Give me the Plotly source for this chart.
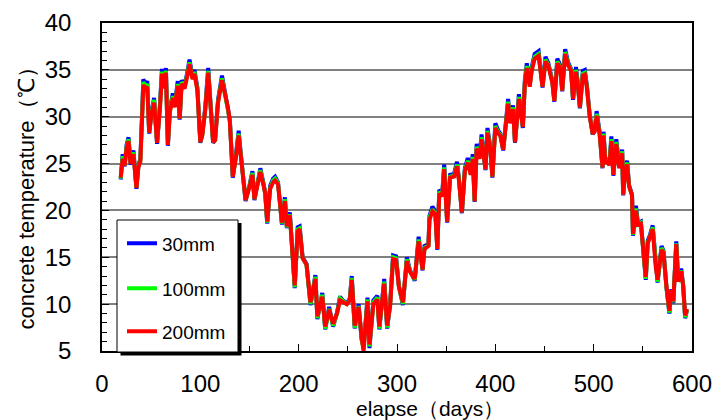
import plotly.graph_objects as go

days = [19, 21, 23, 25, 27, 29, 32, 34, 35, 37,
        39, 41, 42, 44, 46, 48, 50, 53, 56, 59,
        61, 63, 65, 67, 69, 72, 74, 77, 79, 81,
        84, 87, 89, 92, 94, 97, 100, 102, 105, 108,
        111, 113, 115, 118, 122, 125, 128, 130, 132, 133,
        136, 139, 141, 143, 146, 150, 153, 155, 158, 161,
        164, 166, 168, 171, 174, 176, 179, 183, 186, 188,
        191, 193, 196, 199, 201, 204, 208, 212, 215, 217,
        219, 222, 224, 227, 231, 235, 239, 242, 245, 249,
        252, 254, 257, 261, 264, 266, 270, 272, 276, 280,
        282, 287, 290, 293, 296, 299, 302, 306, 310, 313,
        316, 318, 322, 326, 328, 332, 333, 336, 339, 341,
        343, 346, 348, 351, 354, 358, 361, 363, 366, 369,
        372, 375, 377, 379, 381, 384, 386, 390, 392, 395,
        397, 400, 403, 405, 408, 413, 415, 418, 420, 424,
        428, 430, 432, 435, 437, 440, 444, 446, 448, 451,
        454, 458, 460, 463, 466, 468, 471, 474, 477, 479,
        482, 484, 486, 489, 491, 493, 496, 499, 501, 503,
        506, 509, 510, 512, 514, 516, 518, 520, 523, 526,
        529, 530, 532, 534, 536, 539, 540, 543, 545, 548,
        550, 553, 555, 557, 560, 563, 565, 569, 571, 574,
        577, 579, 581, 584, 586, 589, 591, 593, 595]

t200 = [23.5, 25.5, 24.8, 26.6, 27.4, 25.0, 26.0, 24.0, 22.4, 24.6,
        25.2, 30.5, 33.4, 33.0, 33.2, 28.3, 30.0, 31.5, 27.2, 31.0,
        34.6, 33.0, 34.7, 27.0, 30.5, 32.0, 31.0, 33.3, 29.8, 33.5,
        33.0, 34.5, 35.6, 34.0, 34.6, 32.8, 27.3, 28.0, 30.7, 34.7,
        31.0, 27.3, 27.5, 31.5, 33.9, 32.5, 31.0, 29.5, 25.7, 23.6,
        25.5, 28.0, 26.0, 24.2, 21.1, 22.5, 23.8, 21.2, 22.5, 24.1,
        22.8, 21.8, 18.8, 22.3, 23.0, 23.2, 22.8, 18.7, 21.0, 18.3,
        19.5, 16.5, 12.0, 17.8, 18.0, 14.9, 14.2, 10.2, 11.5, 12.7,
        8.7, 9.8, 10.8, 7.6, 9.4, 7.9, 9.0, 10.4, 10.2, 10.0,
        10.4, 12.6, 7.7, 9.7, 6.5, 5.0, 10.3, 5.7, 10.0, 10.5,
        7.6, 12.2, 7.7, 9.8, 14.8, 14.7, 11.8, 10.2, 14.6, 13.5,
        13.0, 12.7, 16.7, 13.7, 15.9, 16.2, 19.0, 19.9, 19.6, 15.9,
        21.8, 21.5, 24.4, 18.8, 23.5, 23.6, 24.7, 23.2, 19.8, 24.2,
        25.1, 23.8, 25.5, 21.0, 26.6, 25.5, 27.6, 24.4, 28.3, 26.5,
        23.6, 28.8, 28.2, 28.0, 26.5, 31.4, 29.3, 30.8, 27.3, 31.9,
        28.9, 33.5, 35.2, 33.2, 34.9, 36.2, 36.5, 35.0, 33.2, 35.9,
        35.4, 33.6, 31.7, 35.7, 35.2, 32.8, 36.7, 35.5, 34.9, 31.9,
        34.8, 33.3, 31.0, 34.4, 34.5, 33.2, 30.0, 28.2, 28.4, 30.1,
        28.2, 24.6, 28.0, 25.0, 25.3, 24.8, 27.4, 23.8, 27.1, 24.5,
        26.1, 21.7, 24.2, 24.9, 22.6, 21.6, 17.5, 20.0, 18.5, 18.6,
        15.8, 12.9, 16.5, 17.0, 18.0, 14.1, 12.6, 15.8, 15.5, 11.9,
        9.3, 11.5, 10.3, 16.4, 12.4, 13.5, 12.0, 8.8, 9.5]

t30 = [23.3, 26.0, 24.7, 27.0, 27.8, 24.9, 26.4, 24.1, 22.3, 24.8,
       25.5, 30.9, 34.0, 33.5, 33.8, 28.2, 30.3, 32.0, 27.1, 31.4,
       35.1, 33.3, 35.2, 26.9, 30.8, 32.5, 31.2, 33.8, 29.7, 33.9,
       33.3, 34.9, 36.1, 34.3, 35.0, 33.1, 27.2, 28.2, 31.0, 35.2,
       31.2, 27.2, 27.5, 31.8, 34.4, 32.8, 31.3, 29.7, 25.8, 23.5,
       25.8, 28.5, 26.2, 24.3, 21.0, 22.7, 24.2, 21.1, 22.7, 24.5,
       23.0, 21.9, 18.6, 22.6, 23.4, 23.6, 23.0, 18.5, 21.4, 18.1,
       19.8, 16.5, 11.7, 18.2, 18.3, 15.0, 14.3, 9.9, 11.7, 13.1,
       8.4, 9.9, 11.2, 7.3, 9.7, 7.6, 9.1, 10.8, 10.4, 10.1,
       10.6, 13.0, 7.4, 10.0, 6.2, 5.4, 10.7, 5.3, 10.4, 10.9,
       7.3, 12.7, 7.4, 10.0, 15.2, 15.1, 11.9, 9.9, 15.0, 13.7,
       13.1, 12.5, 17.2, 13.6, 16.2, 16.4, 19.4, 20.4, 19.9, 15.8,
       22.2, 21.8, 24.9, 18.7, 23.8, 23.9, 25.2, 23.4, 19.7, 24.5,
       25.6, 24.0, 26.0, 20.9, 27.1, 25.8, 28.1, 24.3, 28.8, 26.7,
       23.5, 29.3, 28.5, 28.2, 26.4, 31.9, 29.5, 31.2, 27.2, 32.4,
       28.8, 33.9, 35.7, 33.4, 35.3, 36.7, 37.0, 35.3, 33.1, 36.4,
       35.7, 33.8, 31.6, 36.2, 35.5, 32.7, 37.2, 35.8, 35.1, 31.8,
       35.3, 33.5, 30.9, 34.9, 35.0, 33.4, 30.2, 28.1, 28.6, 30.6,
       28.4, 24.5, 28.4, 25.2, 25.5, 25.0, 27.9, 23.7, 27.6, 24.7,
       26.5, 21.6, 24.5, 25.3, 22.7, 21.7, 17.3, 20.5, 18.6, 18.8,
       15.8, 12.6, 16.8, 17.3, 18.4, 14.1, 12.3, 16.2, 15.7, 11.8,
       9.0, 11.6, 10.1, 16.7, 12.4, 13.8, 12.0, 8.5, 9.4]

t100 = [23.4, 25.8, 24.8, 26.8, 27.6, 25.0, 26.2, 24.0, 22.4, 24.7,
        25.3, 30.7, 33.7, 33.2, 33.5, 28.3, 30.1, 31.8, 27.2, 31.2,
        34.8, 33.1, 34.9, 27.0, 30.6, 32.2, 31.1, 33.5, 29.8, 33.7,
        33.1, 34.7, 35.8, 34.1, 34.8, 32.9, 27.3, 28.1, 30.8, 34.9,
        31.1, 27.3, 27.5, 31.6, 34.1, 32.6, 31.1, 29.6, 25.7, 23.6,
        25.6, 28.2, 26.1, 24.2, 21.1, 22.6, 24.0, 21.2, 22.6, 24.3,
        22.9, 21.8, 18.7, 22.4, 23.2, 23.4, 22.9, 18.6, 21.2, 18.2,
        19.6, 16.5, 11.8, 18.0, 18.1, 14.9, 14.2, 10.0, 11.6, 12.9,
        8.5, 9.8, 11.0, 7.4, 9.5, 7.7, 9.0, 10.6, 10.3, 10.0,
        10.5, 12.8, 7.5, 9.8, 6.3, 5.2, 10.5, 5.5, 10.2, 10.7,
        7.4, 12.4, 7.5, 9.9, 15.0, 14.9, 11.8, 10.0, 14.8, 13.6,
        13.0, 12.6, 16.9, 13.7, 16.0, 16.3, 19.2, 20.1, 19.7, 15.9,
        22.0, 21.6, 24.6, 18.8, 23.6, 23.7, 24.9, 23.3, 19.8, 24.3,
        25.3, 23.9, 25.7, 21.0, 26.8, 25.6, 27.8, 24.4, 28.5, 26.6,
        23.6, 29.0, 28.3, 28.1, 26.5, 31.6, 29.4, 31.0, 27.3, 32.1,
        28.9, 33.7, 35.4, 33.3, 35.1, 36.4, 36.7, 35.1, 33.2, 36.1,
        35.5, 33.7, 31.7, 35.9, 35.3, 32.8, 36.9, 35.6, 35.0, 31.9,
        35.0, 33.4, 31.0, 34.6, 34.7, 33.3, 30.1, 28.2, 28.5, 30.3,
        28.3, 24.6, 28.2, 25.1, 25.4, 24.9, 27.6, 23.8, 27.3, 24.6,
        26.3, 21.7, 24.3, 25.1, 22.6, 21.6, 17.4, 20.2, 18.5, 18.7,
        15.8, 12.7, 16.6, 17.1, 18.2, 14.1, 12.4, 16.0, 15.6, 11.8,
        9.1, 11.5, 10.2, 16.5, 12.4, 13.6, 12.0, 8.6, 9.4]

series_names = ["30mm", "100mm", "200mm"]
series_colors = ["#0000FF", "#00FF00", "#FF0000"]
series_values = [t30, t100, t200]
legend_ids = ["legend", "legend2", "legend3"]

x_ticks = [0, 100, 200, 300, 400, 500, 600]
y_ticks = [5, 10, 15, 20, 25, 30, 35, 40]

FONT = "Liberation Sans, Arial, sans-serif"

fig = go.Figure()
for name, color, vals, lg in zip(series_names, series_colors, series_values, legend_ids):
    fig.add_trace(go.Scatter(
        x=days, y=vals, mode="lines", name=name,
        line=dict(color=color, width=4),
        legend=lg,
    ))

# plot geometry (px) used for placing legend box / titles
L, R, T, B = 102, 24, 23, 69
W, H = 716, 420
pw, ph = W - L - R, H - T - B


def px_x(px):
    return (px - L) / pw


def px_y(py):
    return (H - B - py) / ph


shapes = [
    dict(type="rect", xref="paper", yref="paper",
         x0=px_x(120.5), x1=px_x(241.5), y0=px_y(355.5), y1=px_y(223),
         fillcolor="black", line=dict(width=0), layer="above"),
    dict(type="rect", xref="paper", yref="paper",
         x0=px_x(117), x1=px_x(238), y0=px_y(352), y1=px_y(220),
         fillcolor="white", line=dict(color="black", width=1), layer="above"),
]

legend_common = dict(bgcolor="rgba(0,0,0,0)", borderwidth=0,
                     font=dict(family=FONT, size=19, color="black"),
                     xanchor="left", yanchor="top", itemwidth=30,
                     x=px_x(122))

fig.update_layout(
    width=W, height=H,
    margin=dict(l=L, r=R, t=T, b=B),
    paper_bgcolor="white", plot_bgcolor="white",
    font=dict(family=FONT, color="black"),
    showlegend=True,
    legend=dict(**legend_common, y=px_y(224.5)),
    legend2=dict(**legend_common, y=px_y(269.5)),
    legend3=dict(**legend_common, y=px_y(312.5)),
    shapes=shapes,
    annotations=[
        dict(text="elapse（days）", xref="paper", yref="paper",
             x=px_x(430), y=px_y(408), xanchor="center", yanchor="middle",
             showarrow=False, font=dict(family=FONT, size=21, color="black")),
        dict(text="concrete temperature（℃）", xref="paper", yref="paper",
             x=px_x(25.5), y=px_y(193), xanchor="center", yanchor="middle",
             textangle=-90, showarrow=False,
             font=dict(family=FONT, size=22, color="black")),
    ],
    xaxis=dict(
        range=[0, 600], tickvals=x_ticks, ticktext=[str(v) for v in x_ticks],
        showgrid=False, zeroline=False, automargin=False,
        showline=True, linecolor="black", linewidth=1.5, mirror=True,
        ticks="inside", ticklen=7, tickcolor="black", tickwidth=1,
        minor=dict(ticks="inside", dtick=50, ticklen=5, tickcolor="black", showgrid=False),
        tickfont=dict(family=FONT, size=24, color="black"),
        ticklabelstandoff=10,
    ),
    yaxis=dict(
        range=[5, 40], tickvals=y_ticks, ticktext=[str(v) for v in y_ticks],
        showgrid=True, gridcolor="#808080", gridwidth=2, zeroline=False,
        automargin=False,
        showline=True, linecolor="black", linewidth=1.5, mirror=True,
        ticks="inside", ticklen=7, tickcolor="black", tickwidth=1,
        minor=dict(ticks="inside", dtick=1, ticklen=5, tickcolor="black", showgrid=False),
        tickfont=dict(family=FONT, size=24, color="black"),
        ticklabelstandoff=24,
    ),
)

fig.write_html("out.html", config={"displayModeBar": False},
               post_script="document.body.style.margin='0';")
